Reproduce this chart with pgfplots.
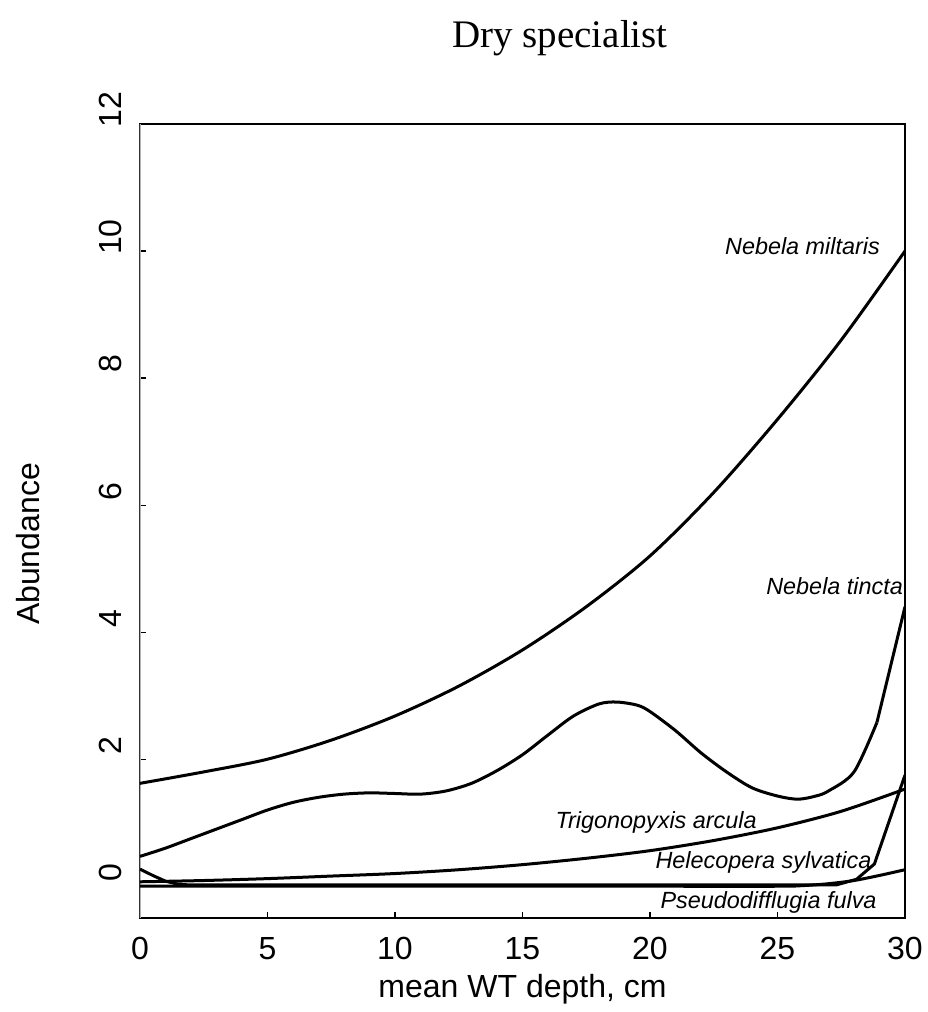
\documentclass[border=0pt]{standalone}
\usepackage{fontspec}
\setmainfont{Liberation Sans}
\newfontfamily\timesfont{Liberation Serif}
\usepackage{pgfplots}
\pgfplotsset{compat=1.18}

\begin{document}
\begin{tikzpicture}
\begin{axis}[
    scale only axis,
    width=382.5pt, height=397pt,
    xmin=0, xmax=30,
    ymin=-0.5, ymax=12,
    xtick={0,5,...,30},
    ytick={0,2,...,12},
    tick pos=left,
    tick align=inside,
    major tick length=3pt,
    tick style={black, line width=0.6pt},
    axis line style={line width=1pt},
    /pgf/number format/assume math mode=true,
    tick label style={font=\fontsize{16}{19}\selectfont},
    xticklabel style={anchor=north, inner sep=0pt, yshift=-9.5pt},
    yticklabel style={rotate=90, anchor=south, inner sep=0pt, yshift=9pt, xshift=7pt},
    title={Dry specialist},
    title style={at={([yshift=32pt]axis description cs:0.549,1)}, anchor=base,
        font=\timesfont\fontsize{19.5}{23}\selectfont},
    xlabel={mean WT depth, cm},
    xlabel style={at={([yshift=-39.5pt]axis description cs:0.5,0)}, anchor=base,
        font=\fontsize{16}{19}\selectfont},
    ylabel={Abundance},
    ylabel style={at={([xshift=-50pt]axis description cs:0,0.471)}, anchor=base,
        font=\fontsize{16}{19}\selectfont},
]
% lighter left axis line
\draw[white, line width=1.4pt] (rel axis cs:0,0) -- (rel axis cs:0,1);
\draw[gray!60, line width=0.9pt] (rel axis cs:0,0) -- (rel axis cs:0,1);

% Nebela militaris
\addplot[black, line width=1.5pt, smooth] coordinates {
(0,1.62)(2.5,1.8)(5,2.0)(7.5,2.3)(10,2.68)(12.5,3.15)(15,3.72)(17.5,4.4)
(20,5.2)(22.5,6.2)(25,7.35)(27.5,8.6)(30,10.0)
};
% Nebela tincta
\addplot[black, line width=1.5pt, smooth] coordinates {
(0,0.47)(1,0.6)(2,0.75)(3,0.9)(4,1.05)(5,1.2)(6,1.32)(7,1.4)(8,1.45)
(9,1.47)(10,1.46)(11,1.45)(12,1.5)(13,1.62)(14,1.82)(15,2.07)(16,2.38)
(17,2.68)(18,2.87)(18.7,2.9)(19.5,2.85)(20,2.75)(21,2.45)(22,2.1)(23,1.8)
(24,1.55)(25,1.42)(25.8,1.37)(26.5,1.42)(27,1.5)(28,1.8)(28.9,2.58)
};
\addplot[black, line width=1.5pt] coordinates {(28.9,2.58)(30,4.4)};
% Trigonopyxis arcula
\addplot[black, line width=1.5pt, smooth] coordinates {
(0,0.07)(2.5,0.09)(5,0.12)(7.5,0.16)(10,0.2)(12.5,0.26)(15,0.34)(17.5,0.44)
(20,0.56)(22.5,0.72)(25,0.92)(27.5,1.18)(30,1.53)
};
% Heleopera sylvatica
\addplot[black, line width=1.5pt] coordinates {
(0,0.27)(0.5,0.17)(1,0.08)(1.5,0.03)(2,0.02)(10,0.02)(20,0.02)(27.3,0.02)
(28.1,0.11)(28.8,0.35)(30,1.75)
};
% Pseudodifflugia fulva
\addplot[black, line width=1.5pt, smooth] coordinates {
(0,0.0)(10,0.0)(20,0.0)(25,0.0)(26,0.01)(27,0.04)(28,0.09)(29,0.17)(30,0.26)
};

\node[font=\itshape\fontsize{11.7}{14}\selectfont] at (axis cs:25.98,10.08) {Nebela miltaris};
\node[font=\itshape\fontsize{11.7}{14}\selectfont] at (axis cs:27.24,4.72) {Nebela tincta};
\node[font=\itshape\fontsize{11.7}{14}\selectfont] at (axis cs:20.24,1.01) {Trigonopyxis arcula};
\node[font=\itshape\fontsize{11.7}{14}\selectfont] at (axis cs:24.45,0.38) {Helecopera sylvatica};
\node[font=\itshape\fontsize{11.7}{14}\selectfont] at (axis cs:24.65,-0.25) {Pseudodifflugia fulva};
\end{axis}
\path ([shift={(-70pt,-47pt)}]current axis.south west) rectangle ([shift={(11pt,62pt)}]current axis.north east);
\end{tikzpicture}
\end{document}
